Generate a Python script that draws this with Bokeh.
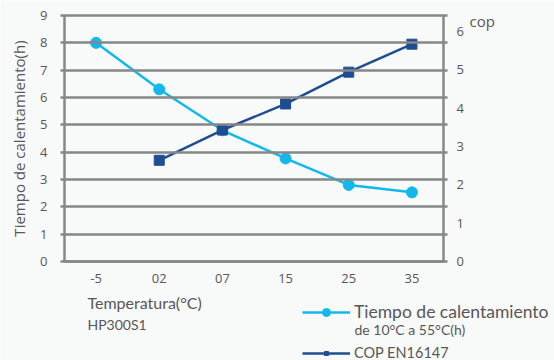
from bokeh.plotting import figure
from bokeh.models import (Range1d, LinearAxis, FixedTicker, Label, Legend, LegendItem)
from bokeh.embed import file_html
from bokeh.resources import INLINE

# ---- data ----
categories = ["-5", "02", "07", "15", "25", "35"]
tiempo = [8.0, 6.3, 4.8, 3.77, 2.8, 2.53]          # Tiempo de calentamiento (h), left axis
cop_categories = ["02", "07", "15", "25", "35"]
cop = [2.64, 3.43, 4.11, 4.94, 5.67]              # COP EN16147, right axis
left_ticks = [0, 1, 2, 3, 4, 5, 6, 7, 8, 9]
right_ticks = [0, 1, 2, 3, 4, 5, 6]

x_idx = list(range(len(categories)))
cop_idx = [categories.index(c) for c in cop_categories]

BG = "#f8f9f9"
GRID = "#878787"
TXT = "#575757"
CYAN = "#12b8ec"
NAVY = "#1f4d92"

# frame covers the whole canvas; axes are pinned with fixed_location
p = figure(width=554, height=360,
           x_range=Range1d(-1.513, 7.257), y_range=Range1d(-3.622, 9.549),
           min_border=0, output_backend="svg", toolbar_location=None,
           background_fill_color=BG, border_fill_color=BG,
           outline_line_color=None)
p.extra_y_ranges = {"cop": Range1d(-2.583, 6.809)}
p.xgrid.visible = False
p.ygrid.visible = False

# left axis: ticks inward double as horizontal grid lines
ya = p.yaxis[0]
ya.fixed_location = -0.5
ya.bounds = (0, 9)
ya.ticker = FixedTicker(ticks=left_ticks)
ya.axis_line_color = GRID
ya.axis_line_width = 2.5
ya.major_tick_line_color = GRID
ya.major_tick_line_width = 2.5
ya.major_tick_out = 4
ya.major_tick_in = 383
ya.minor_tick_line_color = None
ya.major_label_standoff = 13
ya.major_label_text_font = "Open Sans"
ya.major_label_text_font_size = "13px"
ya.major_label_text_color = TXT
ya.axis_label = "Tiempo de calentamiento(h)"
ya.axis_label_text_font = "Open Sans"
ya.axis_label_text_font_size = "15px"
ya.axis_label_text_font_style = "normal"
ya.axis_label_text_color = TXT
ya.axis_label_standoff = 8

# bottom axis
xa = p.xaxis[0]
xa.fixed_location = 0
xa.bounds = (-0.5, 5.5)
xa.ticker = FixedTicker(ticks=x_idx)
xa.major_label_overrides = {i: c for i, c in zip(x_idx, categories)}
xa.axis_line_color = GRID
xa.axis_line_width = 2.5
xa.major_tick_line_color = None
xa.minor_tick_line_color = None
xa.major_tick_out = 0
xa.major_tick_in = 0
xa.major_label_standoff = 12
xa.major_label_text_font = "Open Sans"
xa.major_label_text_font_size = "13px"
xa.major_label_text_color = TXT

# right axis (COP)
rc = LinearAxis(y_range_name="cop", fixed_location=5.5, bounds=(0, 6.418),
                ticker=FixedTicker(ticks=right_ticks),
                axis_line_color=GRID, axis_line_width=2.5,
                major_tick_line_color=None, minor_tick_line_color=None,
                major_tick_out=0, major_tick_in=0,
                major_label_standoff=13,
                major_label_text_font="Open Sans",
                major_label_text_font_size="13px",
                major_label_text_color=TXT)
p.add_layout(rc, "right")

# series
l1 = p.line(x_idx, tiempo, line_color=CYAN, line_width=2.5)
s1 = p.scatter(x_idx, tiempo, marker="circle", size=11,
               fill_color=CYAN, line_color=CYAN)
l2 = p.line(cop_idx, cop, y_range_name="cop", line_color=NAVY, line_width=2.5)
s2 = p.scatter(cop_idx, cop, y_range_name="cop", marker="square", size=10,
               fill_color=NAVY, line_color=NAVY)

# legends (one per item, so each can have its own text size)
def make_legend(label, renderers, loc, fsize, gh):
    return Legend(items=[LegendItem(label=label, renderers=renderers)],
                  location=loc, padding=0, margin=0, spacing=0,
                  glyph_width=48, glyph_height=gh, label_height=gh,
                  label_standoff=4, border_line_color=None,
                  background_fill_alpha=0,
                  label_text_font="Lato", label_text_font_size=fsize,
                  label_text_color=TXT)

p.add_layout(make_legend("Tiempo de calentamiento", [l1, s1], (302, 38), "17.5px", 20))
p.add_layout(make_legend("COP EN16147", [l2, s2], (302, -1), "14.5px", 10))

# free texts (screen px from bottom-left)
def lab(x, y, t, size, font="Lato"):
    p.add_layout(Label(x=x, y=y, x_units="screen", y_units="screen", text=t,
                       text_font=font, text_font_size=size, text_color=TXT,
                       text_baseline="middle", text_align="left"))

lab(354, 31, "de 10°C a 55°C(h)", "14px")
lab(87, 58, "Temperatura(°C)", "16px")
lab(87, 36, "HP300S1", "14px")
lab(469, 340, "cop", "15px", "Open Sans")

open("out.html", "w").write(file_html(p, INLINE))
